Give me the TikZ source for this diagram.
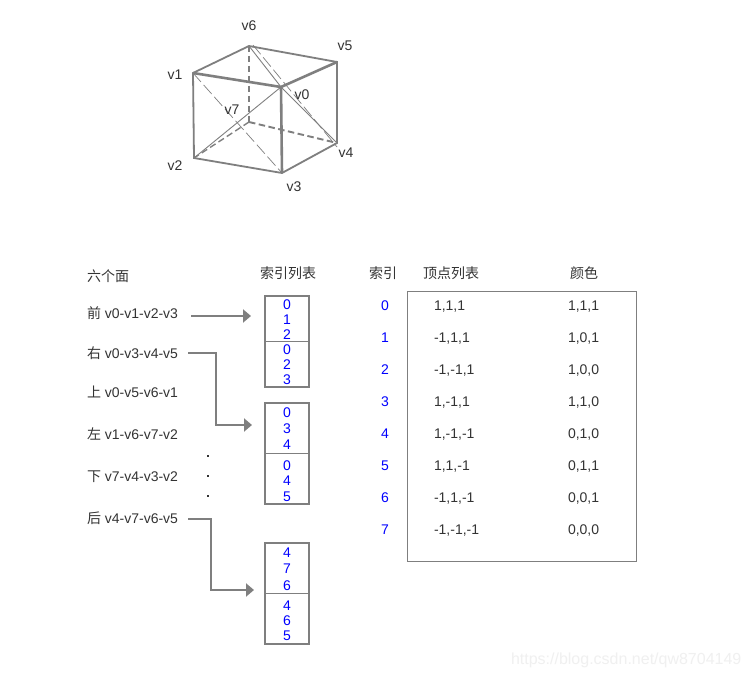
\documentclass[tikz,border=0pt]{standalone}
\usepackage{fontspec}
\setmainfont{Liberation Sans}
\newfontfamily\cjk{Noto Sans CJK SC}
\usetikzlibrary{arrows.meta}
\definecolor{ln}{HTML}{7F7F7F}
\definecolor{tx}{HTML}{333333}
\tikzset{
  every node/.style={inner sep=0pt,outer sep=0pt},
  lbl/.style={text=tx,font=\fontsize{14}{16}\selectfont,text height=10pt,text depth=0pt},
  llbl/.style={lbl,anchor=west},
  idx/.style={text=blue,font=\fontsize{14}{16}\selectfont,text height=10pt,text depth=0pt},
  edge3/.style={draw=ln,line width=1.8pt},
  edgeb/.style={draw=ln,line width=2.6pt},
  hid/.style={draw=ln,line width=1.9pt,dash pattern=on 6.5pt off 3.5pt},
  hidt/.style={draw=ln,line width=1.4pt,dash pattern=on 6.5pt off 3.5pt},
  diag/.style={draw=ln,line width=0.9pt},
  ddiag/.style={draw=ln,line width=0.7pt,dash pattern=on 12pt off 4pt},
  ibox/.style={draw=ln,line width=2pt,minimum width=44pt,anchor=north west},
  sep/.style={draw=ln,line width=1pt},
  arr/.style={draw=ln,line width=2pt,-{Triangle[length=8pt,width=13pt]}},
  dotm/.style={fill=tx,minimum size=2pt},
}
\begin{document}
\begin{tikzpicture}[x=1pt,y=-1pt]
\useasboundingbox[fill=white] (0,0) rectangle (749,679);
% cube vertices
\coordinate (v0) at (281,87);
\coordinate (v1) at (193,73);
\coordinate (v2) at (194,158);
\coordinate (v3) at (282,173);
\coordinate (v4) at (337,143);
\coordinate (v5) at (337,62);
\coordinate (v6) at (249,46);
\coordinate (v7) at (249,122);
% diagonals
\draw[diag] (v2) -- (v0);
\draw[diag] (v6) -- (v0) -- (v4);
\draw[ddiag] ([xshift=4pt,yshift=1pt]v6) -- ([xshift=0pt,yshift=-4pt]v4);
\draw[ddiag] (v1) -- (v3);
% hidden edges
\draw[hidt] (v6) -- (v7);
\draw[hid] (v7) -- (v4);
\draw[hidt] (v7) -- (v2);
% visible edges
\draw[edge3] (v1) -- (v6) -- (v5) -- (v4) -- (v3) -- (v2) -- cycle;
\draw[edgeb] (v1) -- (v0) -- (v5);
\draw[edgeb] (v0) -- (v3);
% cube labels
\node[lbl] (lv6) at (249,26) {v6};
\node[lbl] (lv5) at (345,46) {v5};
\node[lbl] (lv1) at (175,75) {v1};
\node[lbl] (lv0) at (302,95) {v0};
\node[lbl] (lv7) at (232,110) {v7};
\node[lbl] (lv4) at (346,153) {v4};
\node[lbl] (lv2) at (175,166) {v2};
\node[lbl] (lv3) at (294,187) {v3};
% left list
\node[llbl] (h0) at (87,276) {{\cjk 六个面}};
\node[llbl] (f1) at (87,313) {{\cjk 前} v0-v1-v2-v3};
\node[llbl] (f2) at (87,353) {{\cjk 右} v0-v3-v4-v5};
\node[llbl] (f3) at (87,392) {{\cjk 上} v0-v5-v6-v1};
\node[llbl] (f4) at (87,434) {{\cjk 左} v1-v6-v7-v2};
\node[llbl] (f5) at (87,476) {{\cjk 下} v7-v4-v3-v2};
\node[llbl] (f6) at (87,518) {{\cjk 后} v4-v7-v6-v5};
% dots
\node[dotm] (d1) at (208,456) {};
\node[dotm] (d2) at (208,476) {};
\node[dotm] (d3) at (208,496) {};
% headers
\node[lbl] (h1) at (288,273) {{\cjk 索引列表}};
\node[lbl] (h2) at (383,273) {{\cjk 索引}};
\node[lbl] (h3) at (451,273) {{\cjk 顶点列表}};
\node[lbl] (h4) at (584,273) {{\cjk 颜色}};
% index boxes
\node[ibox,minimum height=91pt] (b1) at (265,296) {};
\node[ibox,minimum height=101pt] (b2) at (265,403) {};
\node[ibox,minimum height=101pt] (b3) at (265,543) {};
\draw[sep] (b1.west |- 0,341) -- (b1.east |- 0,341);
\draw[sep] (b2.west |- 0,453) -- (b2.east |- 0,453);
\draw[sep] (b3.west |- 0,593) -- (b3.east |- 0,593);
\foreach \n/\y/\t in {a1/304/0,a2/319/1,a3/334/2,a4/349/0,a5/364/2,a6/379/3,
  c1/412/0,c2/428/3,c3/444/4,c4/465/0,c5/480/4,c6/496/5,
  e1/552/4,e2/568/7,e3/585/6,e4/605/4,e5/620/6,e6/635/5}
  \node[idx] (\n) at (287,\y) {\t};
% arrows
\coordinate (s1) at (191,316);
\coordinate (s2) at (188,353);
\coordinate (m2) at (216,425);
\coordinate (s3) at (188,519);
\coordinate (m3) at (211,590);
\draw[arr,shorten >=14pt] (s1) -- (s1 -| b1.west);
\draw[arr,shorten >=13pt] (s2) -| (m2) -- (m2 -| b2.west);
\draw[arr,shorten >=11pt] (s3) -| (m3) -- (m3 -| b3.west);
% table
\node[draw=ln,line width=1pt,minimum width=229pt,minimum height=270pt,anchor=north west] (tb) at (407.5,291.5) {};
\foreach \i/\p/\q [count=\k from 0] in {0/{1,1,1}/{1,1,1},1/{-1,1,1}/{1,0,1},2/{-1,-1,1}/{1,0,0},3/{1,-1,1}/{1,1,0},4/{1,-1,-1}/{0,1,0},5/{1,1,-1}/{0,1,1},6/{-1,1,-1}/{0,0,1},7/{-1,-1,-1}/{0,0,0}}{
  \node[idx] (i\k) at (385,305+32*\k) {\i};
  \node[llbl] (p\k) at (434,305+32*\k) {\p};
  \node[llbl] (q\k) at (568,305+32*\k) {\q};
}
% watermark
\node[anchor=west,text=black!6,font=\fontsize{16}{18}\selectfont] (wm) at (511,660) {https://blog.csdn.net/qw8704149};
\end{tikzpicture}
\end{document}
